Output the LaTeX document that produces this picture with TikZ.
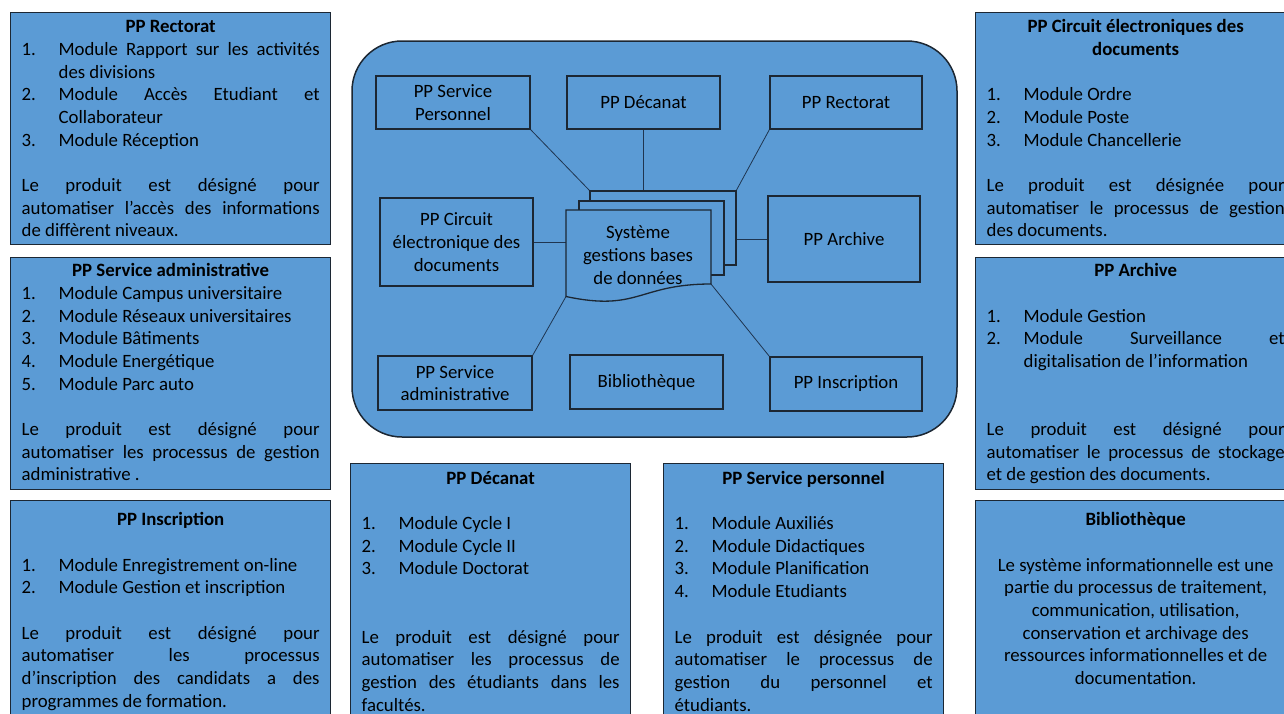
\documentclass[tikz,border=0pt]{standalone}
\usepackage{fontspec}
\setmainfont{Carlito}
\usetikzlibrary{calc}
\definecolor{boxblue}{HTML}{5B9BD5}
\definecolor{edgec}{HTML}{1C2733}
\definecolor{linkc}{HTML}{1F3550}
\newlength\bls \setlength\bls{22.7pt}
\newcommand\fs{\fontsize{18.8pt}{22.7pt}\selectfont}
\newcommand\blankline{\par\vskip\bls}
\newcommand\itm[2]{\par\noindent\hangindent=37pt\hangafter=1\makebox[37pt][l]{#1}#2}
\newcommand\ttl[2]{{\centering\bfseries\rule{0pt}{#1}#2\par}}
\newcommand\infotext[3]{\parbox[t][#2][t]{#1}{\fs\pretolerance=10000\tolerance=10000\hbadness=10000\hyphenpenalty=10000\parindent=0pt\parskip=0pt #3}}
\begin{document}
\begin{tikzpicture}[x=1pt,y=-1pt,
  info/.style={draw=edgec, line width=1.3pt, fill=boxblue, anchor=north west, inner xsep=0pt, inner ysep=0pt, minimum width=320pt, text=black},
  inbox/.style={draw=edgec, line width=1.3pt, fill=boxblue, align=center, font=\fs, inner sep=0pt, text=black},
  link/.style={draw=linkc, line width=0.8pt},
  docpage/.style={draw=edgec, line width=1.3pt, fill=boxblue}
]
\useasboundingbox (0,0) rectangle (1284,713);
\fill[white] (0,0) rectangle (1284,713);
\clip (0,0) rectangle (1284,713);

% ---------- left column ----------
\node[info] (iRect) at (10,12) {\infotext{298pt}{232pt}{%
\ttl{20pt}{PP Rectorat}%
\itm{1.}{Module Rapport sur les activités\linebreak des divisions}%
\itm{2.}{Module Accès Etudiant et\linebreak Collaborateur}%
\itm{3.}{Module Réception}%
\blankline
Le produit est désigné pour\linebreak automatiser l’accès des informations\linebreak de diffèrent niveaux.\par}};

\node[info] (iAdm) at (10,257) {\infotext{298pt}{232pt}{%
\ttl{19pt}{PP Service administrative}%
\itm{1.}{Module Campus universitaire}%
\itm{2.}{Module Réseaux universitaires}%
\itm{3.}{Module Bâtiments}%
\itm{4.}{Module Energétique}%
\itm{5.}{Module Parc auto}%
\blankline
Le produit est désigné pour\linebreak automatiser les processus de gestion\linebreak administrative .\par}};

\node[info] (iIns) at (10,500) {\infotext{298pt}{240pt}{%
\ttl{25pt}{PP Inscription}%
\blankline
\itm{1.}{Module Enregistrement on-line}%
\itm{2.}{Module Gestion et inscription}%
\blankline
Le produit est désigné pour\linebreak automatiser les processus\linebreak d’inscription des candidats a des\linebreak programmes de formation.\par}};

% ---------- right column ----------
\node[info] (iCirc) at (975,12) {\infotext{298pt}{232pt}{%
{\centering\bfseries\rule{0pt}{20pt}PP Circuit électroniques des\\ documents\par}%
\blankline
\itm{1.}{Module Ordre}%
\itm{2.}{Module Poste}%
\itm{3.}{Module Chancellerie}%
\blankline
Le produit est désignée pour\linebreak automatiser le processus de gestion\linebreak des documents.\par}};

\node[info] (iArch) at (975,257) {\infotext{298pt}{232pt}{%
\ttl{19pt}{PP Archive}%
\blankline
\itm{1.}{Module Gestion}%
\itm{2.}{Module Surveillance et\linebreak digitalisation de l’information}%
\blankline
\blankline
Le produit est désigné pour\linebreak automatiser le processus de stockage\linebreak et de gestion des documents.\par}};

\node[info] (iBib) at (975,500) {\infotext{298pt}{240pt}{%
\ttl{25pt}{Bibliothèque}%
\blankline
{\centering Le système informationnelle est une\\ partie du processus de traitement,\\ communication, utilisation,\\ conservation et archivage des\\ ressources informationnelles et de\\ documentation.\par}}};

% ---------- bottom middle ----------
\node[info, minimum width=280pt] (iDec) at (350,463) {\infotext{258pt}{270pt}{%
\ttl{20.5pt}{PP Décanat}%
\blankline
\itm{1.}{Module Cycle I}%
\itm{2.}{Module Cycle II}%
\itm{3.}{Module Doctorat}%
\blankline
\blankline
Le produit est désigné pour\linebreak automatiser les processus de\linebreak gestion des étudiants dans les\linebreak facultés.\par}};

\node[info, minimum width=280pt] (iSP) at (663,463) {\infotext{258pt}{270pt}{%
\ttl{20.5pt}{PP Service personnel}%
\blankline
\itm{1.}{Module Auxiliés}%
\itm{2.}{Module Didactiques}%
\itm{3.}{Module Planification}%
\itm{4.}{Module Etudiants}%
\blankline
Le produit est désignée pour\linebreak automatiser le processus de\linebreak gestion du personnel et\linebreak étudiants.\par}};

% ---------- central diagram ----------
\node[draw=edgec, line width=1.5pt, fill=boxblue, rounded corners=50pt,
      minimum width=605pt, minimum height=396pt, inner sep=0pt] (frame) at (654.5,239) {};

\node[inbox, minimum width=154pt, minimum height=53pt] (nSP)   at (453,102.5)   {PP Service\\Personnel};
\node[inbox, minimum width=153pt, minimum height=53pt] (nDec)  at (643.5,102.5) {PP Décanat};
\node[inbox, minimum width=152pt, minimum height=53pt] (nRec)  at (846,102.5)   {PP Rectorat};
\node[inbox, minimum width=153pt, minimum height=88pt] (nCirc) at (456.5,242)   {PP Circuit\\électronique des\\documents};
\node[inbox, minimum width=152pt, minimum height=86pt] (nArch) at (844,239)     {PP Archive};
\node[inbox, minimum width=154pt, minimum height=54pt] (nAdm)  at (455,383)     {PP Service\\administrative};
\node[inbox, minimum width=153pt, minimum height=54pt] (nBib)  at (646.5,382)   {Bibliothèque};
\node[inbox, minimum width=152pt, minimum height=54pt] (nIns)  at (846,384)     {PP Inscription};

% document stack corners
\coordinate (d3tl) at (590,191);
\coordinate (d3tr) at (736,191);
\coordinate (d3br) at (736,265);
\coordinate (d2tl) at (579,201);
\coordinate (d2br) at (724,275);
\coordinate (d1tl) at (566,210);
\coordinate (d1tr) at (711,210);
\coordinate (d1br) at (711,284);
\coordinate (d1bl) at (566,296.5);

% connectors
\draw[link] (nSP.south east) -- (d3tl);
\draw[link] (nDec.south) -- (nDec.south |- d3tl);
\draw[link] (nRec.south west) -- (d3tr);
\draw[link] (nCirc.east) -- (nCirc.east -| d1tl);
\draw[link] (nArch.west) -- (nArch.west -| d3tr);
\draw[link] (nAdm.north east) -- (d1bl);
\draw[link] (nIns.north west) -- (d1br);

% stacked documents
\path[docpage] (d3tl) rectangle (d3br);
\path[docpage] (d2tl) rectangle (d2br);
\path[docpage] (d1tl) -- (d1tr) -- (d1br) .. controls (638.5,284) and (638.5,312) .. (d1bl) -- cycle;
\node[font=\fs, align=center, inner sep=0pt, text=black] (db) at (638,255) {Système\\gestions bases\\de données};
\end{tikzpicture}
\end{document}
